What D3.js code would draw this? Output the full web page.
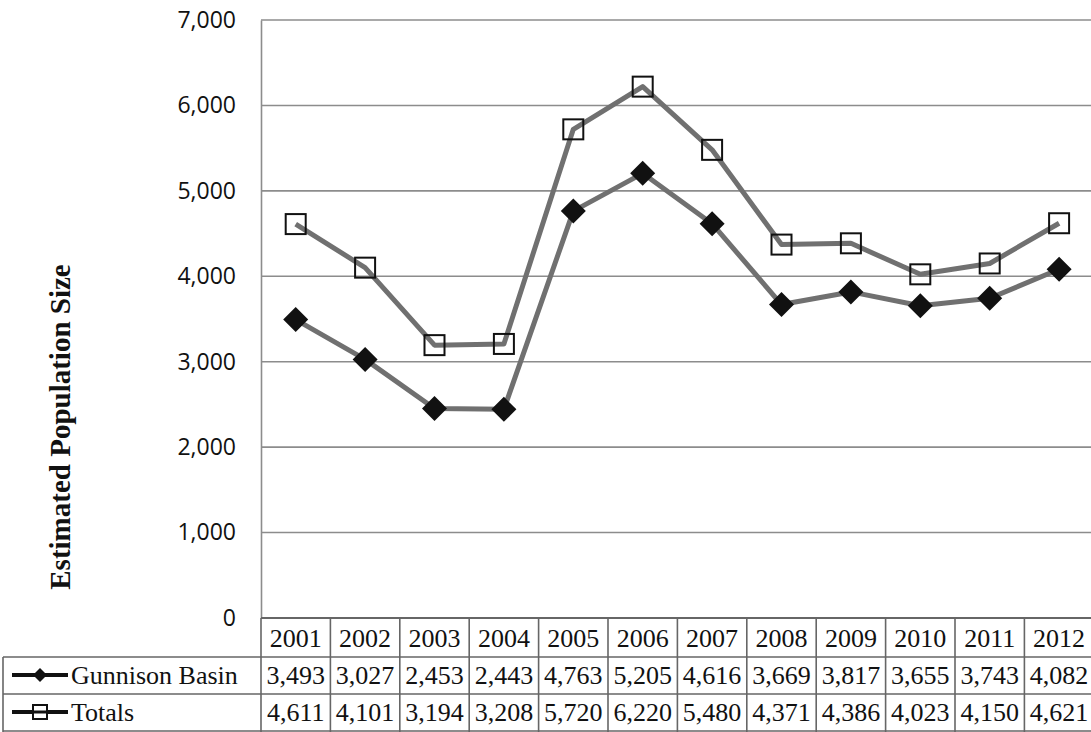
<!DOCTYPE html>
<html>
<head>
<meta charset="utf-8">
<script src="https://cdn.jsdelivr.net/npm/d3@7/dist/d3.min.js"></script>
<style>
  html, body { margin: 0; padding: 0; background: #fff; }
  svg { display: block; }
</style>
</head>
<body>
<svg id="chart" width="1091" height="732"></svg>
<script>
// Estimated population size per year
const years = ["2001", "2002", "2003", "2004", "2005", "2006", "2007", "2008", "2009", "2010", "2011", "2012"];
const gunnisonBasin = [3493, 3027, 2453, 2443, 4763, 5205, 4616, 3669, 3817, 3655, 3743, 4082];
const totals = [4611, 4101, 3194, 3208, 5720, 6220, 5480, 4371, 4386, 4023, 4150, 4621];
const yTicks = [0, 1000, 2000, 3000, 4000, 5000, 6000, 7000];
const seriesNames = ["Gunnison Basin", "Totals"];

const svg = d3.select("#chart");

const plotLeft = 261, plotTop = 20, plotBottom = 618;
const colW = 69.4;
const plotRight = plotLeft + colW * years.length;

const x = d3.scaleBand().domain(years).range([plotLeft, plotRight]).padding(0);
const y = d3.scaleLinear().domain([0, 7000]).range([plotBottom, plotTop]);
const cx = d => x(d) + x.bandwidth() / 2;

const gridColor = "#8c8c8c";
const tableColor = "#666";
const lineColor = "#707070";
const serif = "'Liberation Serif', 'Times New Roman', serif";
const sans = "'Open Sans', 'Liberation Sans', sans-serif";

// Horizontal gridlines
svg.append("g")
  .selectAll("line")
  .data(yTicks.filter(t => t > 0))
  .join("line")
  .attr("x1", plotLeft).attr("x2", plotRight)
  .attr("y1", d => y(d)).attr("y2", d => y(d))
  .attr("stroke", gridColor).attr("stroke-width", 1.6);

// Y axis with comma-formatted ticks
const yAxis = d3.axisLeft(y).tickValues(yTicks).tickFormat(d3.format(",")).tickSize(0).tickPadding(25);
const gy = svg.append("g").attr("transform", `translate(${plotLeft},0)`).call(yAxis);
gy.select(".domain").attr("stroke", gridColor).attr("stroke-width", 1.6);
gy.selectAll("text")
  .attr("font-family", sans)
  .attr("font-size", 23)
  .attr("fill", "#111");

// Y axis title
svg.append("text")
  .attr("transform", `translate(70,427) rotate(-90)`)
  .attr("text-anchor", "middle")
  .attr("font-family", serif)
  .attr("font-weight", "bold")
  .attr("font-size", 29)
  .attr("fill", "#111")
  .text("Estimated Population Size");

// Series lines
const line = d3.line().x((d, i) => cx(years[i])).y(d => y(d));
[totals, gunnisonBasin].forEach(vals => {
  svg.append("path")
    .datum(vals)
    .attr("d", line)
    .attr("fill", "none")
    .attr("stroke", lineColor)
    .attr("stroke-width", 5)
    .attr("stroke-linejoin", "round");
});

const diamond = s => `M0,${-s}L${s},0L0,${s}L${-s},0Z`;

// Diamond markers (Gunnison Basin)
svg.append("g")
  .selectAll("path")
  .data(gunnisonBasin)
  .join("path")
  .attr("transform", (d, i) => `translate(${cx(years[i])},${y(d)})`)
  .attr("d", diamond(12.5))
  .attr("fill", "#111");

// Open square markers (Totals)
svg.append("g")
  .selectAll("rect")
  .data(totals)
  .join("rect")
  .attr("x", (d, i) => cx(years[i]) - 10)
  .attr("y", d => y(d) - 10)
  .attr("width", 20).attr("height", 20)
  .attr("fill", "none")
  .attr("stroke", "#111")
  .attr("stroke-width", 2);

// Data table
const rowTop = [618, 657, 694, 732];
const tableLeft = 3;
const table = svg.append("g");

// Horizontal rules
table.append("line")
  .attr("x1", plotLeft).attr("x2", plotRight)
  .attr("y1", rowTop[0]).attr("y2", rowTop[0])
  .attr("stroke", tableColor).attr("stroke-width", 1.8);
[rowTop[1], rowTop[2], rowTop[3] - 1].forEach(yy => {
  table.append("line")
    .attr("x1", tableLeft).attr("x2", plotRight)
    .attr("y1", yy).attr("y2", yy)
    .attr("stroke", tableColor).attr("stroke-width", 1.6);
});

// Vertical rules
table.append("line")
  .attr("x1", tableLeft).attr("x2", tableLeft)
  .attr("y1", rowTop[1]).attr("y2", rowTop[3])
  .attr("stroke", tableColor).attr("stroke-width", 1.6);
table.selectAll("line.col")
  .data(years.concat(["end"]))
  .join("line")
  .attr("class", "col")
  .attr("x1", (d, i) => plotLeft + i * x.bandwidth())
  .attr("x2", (d, i) => plotLeft + i * x.bandwidth())
  .attr("y1", rowTop[0]).attr("y2", rowTop[3])
  .attr("stroke", tableColor).attr("stroke-width", 1.6);

// Year header
table.selectAll("text.year")
  .data(years)
  .join("text")
  .attr("class", "year")
  .attr("x", d => cx(d))
  .attr("y", 647)
  .attr("text-anchor", "middle")
  .attr("font-family", serif)
  .attr("font-size", 26)
  .attr("fill", "#111")
  .text(d => d);

// Value rows
const fmt = d3.format(",");
[gunnisonBasin, totals].forEach((vals, r) => {
  table.selectAll(`text.v${r}`)
    .data(vals)
    .join("text")
    .attr("class", `v${r}`)
    .attr("x", (d, i) => cx(years[i]))
    .attr("y", r === 0 ? 684 : 721)
    .attr("text-anchor", "middle")
    .attr("font-family", serif)
    .attr("font-size", 26)
    .attr("fill", "#111")
    .text(d => fmt(d));
});

// Legend keys in row headers
const keyY = [675, 712];
seriesNames.forEach((name, r) => {
  const g = table.append("g");
  g.append("line")
    .attr("x1", 12).attr("x2", 68)
    .attr("y1", keyY[r]).attr("y2", keyY[r])
    .attr("stroke", "#111").attr("stroke-width", 4);
  if (r === 0) {
    g.append("path")
      .attr("transform", `translate(40,${keyY[r]})`)
      .attr("d", diamond(7))
      .attr("fill", "#111");
  } else {
    g.append("rect")
      .attr("x", 33).attr("y", keyY[r] - 7)
      .attr("width", 14).attr("height", 14)
      .attr("fill", "#fff")
      .attr("stroke", "#111").attr("stroke-width", 2);
    g.append("line")
      .attr("x1", 33).attr("x2", 47)
      .attr("y1", keyY[r]).attr("y2", keyY[r])
      .attr("stroke", "#111").attr("stroke-width", 3);
  }
  g.append("text")
    .attr("x", 71)
    .attr("y", keyY[r] + 9)
    .attr("font-family", serif)
    .attr("font-size", 26)
    .attr("fill", "#111")
    .text(name);
});
</script>
</body>
</html>
